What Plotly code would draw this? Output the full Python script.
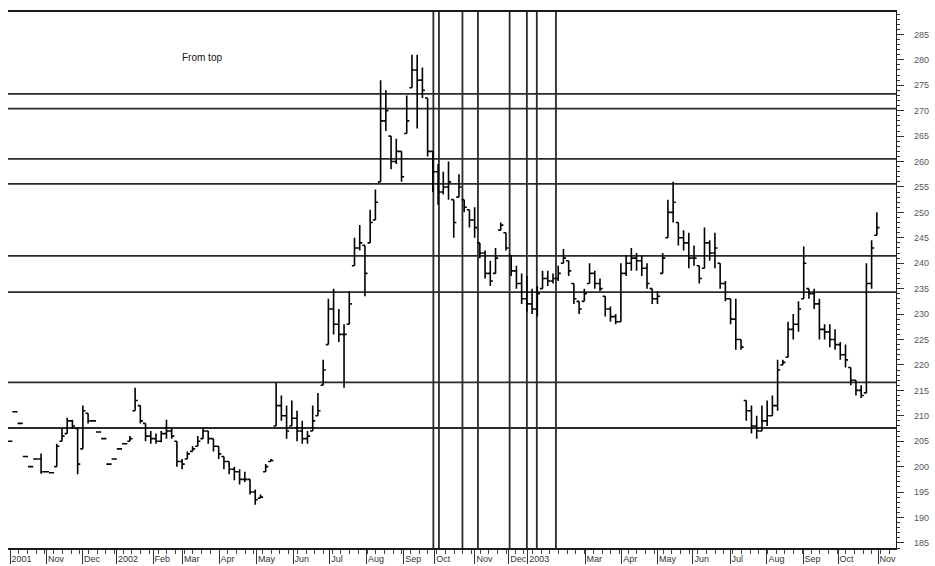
import plotly.graph_objects as go

# ---- data ----
# bar positions are trading-day indices; one bar every 3 trading days
bar_x = [1 + 3 * k for k in range(167)]

bar_high = [
    205.0, 210.8, 208.5, 202.0, 200.0, 201.5, 202.6, 199.0, 198.8, 204.5,
    207.5, 209.6, 209.2, 207.5, 212.0, 210.5, 209.0, 206.8, 205.5, 200.5,
    201.5, 203.5, 204.5, 206.0, 215.5, 212.0, 208.5, 207.0, 206.5, 207.0,
    209.2, 207.6, 205.0, 201.5, 203.0, 204.0, 206.0, 207.6, 207.0, 205.5,
    204.0, 202.0, 201.0, 200.0, 199.5, 199.0, 197.5, 195.5, 194.5, 200.5,
    201.5, 216.5, 214.0, 212.0, 213.0, 211.0, 209.0, 207.0, 212.0, 214.5,
    221.0, 233.0, 235.0, 231.0, 228.0, 234.5, 245.0, 247.5, 243.5, 250.5,
    254.5, 276.0, 274.0, 265.0, 264.5, 262.0, 273.0, 281.0, 281.0, 278.5,
    272.5, 262.0, 259.5, 258.0, 260.0, 252.5, 257.5, 252.5, 250.5, 251.0,
    244.0, 242.5, 240.5, 243.0, 248.0, 246.0, 241.5, 239.5, 238.0, 237.5,
    235.0, 235.5, 238.5, 238.5, 238.0, 239.5, 242.8, 240.5, 236.0, 232.5,
    235.0, 240.0, 238.5, 237.0, 233.5, 231.5, 230.0, 240.0, 241.5, 243.0,
    242.0, 241.5, 240.0, 235.0, 234.5, 242.0, 252.5, 256.0, 248.0, 246.5,
    246.0, 243.5, 239.5, 247.0, 244.5, 246.0, 240.0, 236.5, 233.0, 233.0,
    225.0, 213.0, 212.0, 210.0, 212.0, 213.0, 214.0, 221.0, 221.0, 228.5,
    230.0, 232.5, 243.3, 235.0, 235.0, 233.0, 228.0, 228.0, 227.0, 224.5,
    224.0, 219.5, 217.0, 216.0, 240.0, 244.5, 250.0,
]

bar_low = [
    205.0, 210.8, 208.5, 202.0, 200.0, 201.5, 198.6, 199.0, 198.8, 200.0,
    205.0, 206.5, 207.5, 198.5, 203.5, 208.5, 209.0, 206.8, 205.5, 200.5,
    201.5, 203.5, 204.5, 205.0, 211.0, 208.5, 205.0, 204.5, 204.5, 204.8,
    205.5, 205.5, 200.0, 199.5, 201.5, 203.0, 204.0, 205.5, 204.5, 203.0,
    201.5, 199.5, 198.5, 197.3, 196.5, 197.0, 194.5, 192.5, 193.8, 199.0,
    201.0, 208.0, 209.0, 205.5, 208.0, 205.0, 204.5, 204.5, 207.0, 210.0,
    216.0, 224.0, 226.0, 224.5, 215.5, 228.0, 239.5, 242.5, 233.5, 244.0,
    248.5, 256.0, 266.0, 258.5, 259.5, 256.0, 265.5, 274.5, 266.5, 272.5,
    261.0, 254.0, 251.5, 253.5, 252.5, 245.0, 253.0, 250.0, 247.0, 245.0,
    241.0, 237.0, 235.5, 238.0, 246.5, 242.5, 237.5, 235.0, 232.0, 230.5,
    230.0, 229.5, 235.0, 235.5, 236.0, 236.5, 240.0, 237.5, 232.0, 230.0,
    232.5, 236.0, 235.0, 234.5, 229.5, 228.5, 228.0, 228.5, 237.5, 238.5,
    238.5, 237.5, 235.0, 232.0, 232.0, 238.0, 245.0, 248.0, 243.5, 242.5,
    239.0, 239.5, 236.0, 239.0, 240.5, 239.0, 235.0, 232.5, 228.0, 223.0,
    223.0, 209.0, 206.5, 205.5, 207.0, 208.0, 210.0, 211.0, 220.0, 221.5,
    225.0, 226.5, 233.0, 233.0, 231.0, 225.0, 225.0, 223.5, 223.0, 221.0,
    219.5, 216.0, 214.0, 213.5, 214.5, 235.0, 245.5,
]

bar_close = [
    205.0, 210.8, 208.5, 202.0, 200.0, 201.5, 199.0, 199.0, 198.8, 204.0,
    206.0, 209.0, 208.0, 200.5, 211.0, 209.0, 209.0, 206.8, 205.5, 200.5,
    201.5, 203.5, 204.5, 205.5, 213.0, 209.0, 206.0, 205.5, 205.0, 206.5,
    207.0, 206.0, 201.0, 200.5, 202.5, 203.5, 205.0, 207.0, 205.5, 204.0,
    202.5, 201.0, 199.5, 199.0, 197.5, 197.5, 195.0, 193.5, 194.0, 200.0,
    201.2, 212.0, 210.0, 207.0, 209.5, 207.0, 205.5, 206.0, 209.0, 211.0,
    219.0, 231.0, 228.0, 226.0, 226.0, 232.0, 243.0, 244.0, 238.0, 248.0,
    252.0, 268.0, 270.0, 260.0, 262.0, 257.0, 268.0, 278.0, 276.0, 274.0,
    262.0, 258.0, 254.0, 255.0, 256.0, 248.0, 255.0, 251.0, 248.5, 247.0,
    242.0, 238.0, 236.5, 241.0, 247.5, 243.0, 238.5, 236.0, 233.0, 232.0,
    231.0, 234.0, 237.0, 236.5, 237.0, 238.0, 241.0, 238.5, 233.0, 231.0,
    234.0, 238.0, 236.0, 235.0, 231.0, 229.5, 228.5, 238.0, 240.0, 241.0,
    240.5, 239.0, 236.0, 233.0, 233.5, 241.0, 250.0, 252.0, 245.0, 244.0,
    241.0, 241.0, 237.0, 244.0, 242.0, 243.0, 236.0, 233.0, 229.0, 225.0,
    223.5, 211.0, 208.0, 207.0, 209.0, 210.0, 212.0, 219.0, 220.5, 227.0,
    228.0, 231.0, 240.0, 234.0, 232.0, 227.0, 226.5, 225.0, 224.0, 222.0,
    221.0, 217.0, 215.0, 214.0, 236.0, 243.0, 247.0,
]

# support / resistance levels (horizontal lines) and time lines (vertical)
hline_levels = [273.3, 270.4, 260.5, 255.6, 241.45, 234.3, 216.55, 207.6]
vline_days = [244.3, 247.5, 261.0, 269.9, 288.1, 298.0, 303.7, 314.7]

# month tick positions (trading-day index) and labels
month_ticks = [1.2, 22.2, 42.9, 62.4, 83.3, 100.3, 121.2, 142.8, 163.7, 184.9,
               206.0, 227.4, 245.2, 268.2, 287.7, 298.6, 331.4, 352.6, 373.1,
               393.4, 414.7, 435.9, 456.6, 476.7, 499.7]
month_labels = ["2001", "Nov", "Dec", "2002", "Feb", "Mar", "Apr", "May", "Jun",
                "Jul", "Aug", "Sep", "Oct", "Nov", "Dec", "2003", "Mar", "Apr",
                "May", "Jun", "Jul", "Aug", "Sep", "Oct", "Nov"]

title_text = "From top"

# opens: start where the previous bar closed, kept inside the bar's range
bar_open = []
for i in range(len(bar_close)):
    prev = bar_close[i - 1] if i > 0 else bar_close[0]
    bar_open.append(min(max(prev, bar_low[i]), bar_high[i]))

FONT = "Liberation Sans, Arial, sans-serif"

fig = go.Figure()

for lvl in hline_levels:
    fig.add_hline(y=lvl, line=dict(color="#2a2a2a", width=1.8), layer="below")
for d in vline_days:
    fig.add_vline(x=d, line=dict(color="#2a2a2a", width=1.8), layer="below")

fig.add_trace(go.Ohlc(
    x=bar_x, open=bar_open, high=bar_high, low=bar_low, close=bar_close,
    increasing=dict(line=dict(color="black", width=1.6)),
    decreasing=dict(line=dict(color="black", width=1.6)),
    tickwidth=0.5, hoverinfo="skip", showlegend=False,
))

fig.add_annotation(x=98.8, y=280.5, xref="x", yref="y", text=title_text,
                   showarrow=False, xanchor="left", yanchor="middle",
                   font=dict(family=FONT, size=10, color="#111"))

fig.update_layout(
    width=935, height=566,
    margin=dict(l=8, r=39, t=12, b=18, autoexpand=False),
    paper_bgcolor="white", plot_bgcolor="white",
    showlegend=False,
)

fig.update_xaxes(
    range=[0, 510], rangeslider=dict(visible=False), automargin=False,
    showgrid=False, zeroline=False,
    showline=True, mirror=True, linecolor="#1a1a1a", linewidth=1.8,
    tickmode="array", tickvals=month_ticks, ticktext=month_labels,
    ticks="outside", ticklen=14, tickwidth=1, tickcolor="#333",
    ticklabelposition="outside right", ticklabelstandoff=1, tickangle=0,
    tickfont=dict(family=FONT, size=9, color="#333"),
    minor=dict(dtick=5, tick0=1.2, ticks="outside", ticklen=4, tickcolor="#444", showgrid=False),
)

fig.update_yaxes(
    range=[184.0, 289.4], side="right", automargin=False,
    showgrid=False, zeroline=False,
    showline=True, linecolor="#1a1a1a", linewidth=1.4,
    tickmode="linear", tick0=185, dtick=5,
    ticks="outside", ticklen=7, tickwidth=1, tickcolor="#333",
    ticklabelstandoff=8,
    tickfont=dict(family=FONT, size=9, color="#555"),
    minor=dict(dtick=1, ticks="outside", ticklen=3, tickcolor="#333", showgrid=False),
)

fig.write_html("out.html", config={"displayModeBar": False},
               post_script="document.body.style.margin='0';")
